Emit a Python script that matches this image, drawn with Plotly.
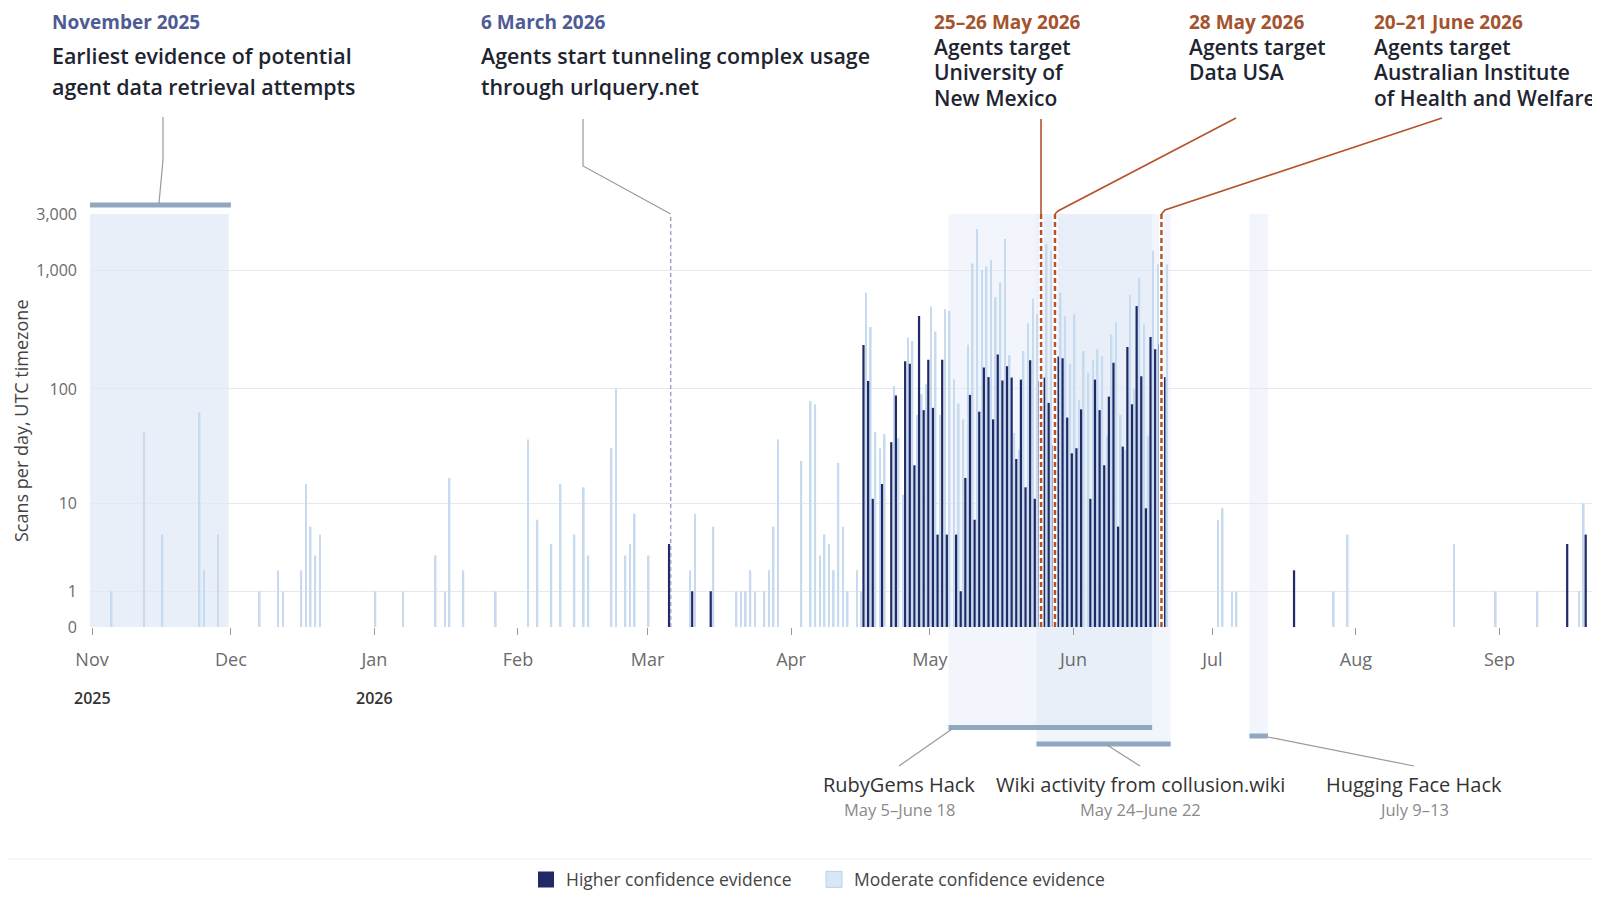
import numpy as np
import pandas as pd
import plotly.graph_objects as go

# daily scan counts, higher confidence evidence (days not listed are 0)
high_dates = [
    "2026-03-06", "2026-03-11", "2026-03-15",
    "2026-04-17", "2026-04-18", "2026-04-19", "2026-04-21", "2026-04-23", "2026-04-24",
    "2026-04-26", "2026-04-27", "2026-04-28", "2026-04-29", "2026-04-30",
    "2026-05-01", "2026-05-02", "2026-05-03", "2026-05-04", "2026-05-05", "2026-05-07",
    "2026-05-08", "2026-05-09", "2026-05-10", "2026-05-11", "2026-05-12", "2026-05-13",
    "2026-05-14", "2026-05-15", "2026-05-16", "2026-05-17", "2026-05-18", "2026-05-19",
    "2026-05-20", "2026-05-21", "2026-05-22", "2026-05-23", "2026-05-24", "2026-05-25",
    "2026-05-26", "2026-05-27", "2026-05-28", "2026-05-29", "2026-05-30", "2026-05-31",
    "2026-06-01", "2026-06-02", "2026-06-03", "2026-06-05", "2026-06-06", "2026-06-07",
    "2026-06-08", "2026-06-09", "2026-06-10", "2026-06-11", "2026-06-12", "2026-06-13",
    "2026-06-14", "2026-06-15", "2026-06-16", "2026-06-17", "2026-06-18", "2026-06-19",
    "2026-06-20", "2026-06-21",
    "2026-07-19", "2026-09-16", "2026-09-20",
]
high_vals = [
    4, 1, 1,
    236, 117, 11, 15, 35, 88,
    172, 164, 22, 415, 66,
    177, 69, 5, 177, 5, 5,
    1, 17, 89, 7, 64, 152,
    126, 55, 196, 118, 156, 125,
    25, 120, 14, 175, 11, 117,
    125, 76, 33, 188, 182, 57,
    28, 31, 67, 11, 120, 66,
    22, 86, 167, 6, 32, 227,
    74, 504, 128, 9, 276, 217,
    239, 126,
    2, 4, 5,
]

# daily scan counts, moderate confidence evidence
mod_dates = [
    "2025-11-05", "2025-11-12", "2025-11-16", "2025-11-24", "2025-11-25", "2025-11-28",
    "2025-12-07", "2025-12-11", "2025-12-12", "2025-12-16", "2025-12-17", "2025-12-18",
    "2025-12-19", "2025-12-20",
    "2026-01-01", "2026-01-07", "2026-01-14", "2026-01-16", "2026-01-17", "2026-01-20",
    "2026-01-27",
    "2026-02-03", "2026-02-05", "2026-02-08", "2026-02-10", "2026-02-13", "2026-02-15",
    "2026-02-16", "2026-02-21", "2026-02-22", "2026-02-24", "2026-02-25", "2026-02-26",
    "2026-03-01", "2026-03-10", "2026-03-11", "2026-03-15", "2026-03-20", "2026-03-21",
    "2026-03-22", "2026-03-23", "2026-03-24", "2026-03-26", "2026-03-27", "2026-03-28",
    "2026-03-29",
    "2026-04-03", "2026-04-05", "2026-04-06", "2026-04-07", "2026-04-08", "2026-04-09",
    "2026-04-10", "2026-04-11", "2026-04-12", "2026-04-13", "2026-04-15", "2026-04-16",
    "2026-04-17", "2026-04-18", "2026-04-19", "2026-04-20", "2026-04-21", "2026-04-23",
    "2026-04-24", "2026-04-25", "2026-04-26", "2026-04-27", "2026-04-28", "2026-04-29",
    "2026-04-30",
    "2026-05-01", "2026-05-02", "2026-05-03", "2026-05-04", "2026-05-05", "2026-05-06",
    "2026-05-07", "2026-05-08", "2026-05-09", "2026-05-10", "2026-05-11", "2026-05-12",
    "2026-05-13", "2026-05-14", "2026-05-15", "2026-05-16", "2026-05-17", "2026-05-18",
    "2026-05-19", "2026-05-20", "2026-05-21", "2026-05-22", "2026-05-23", "2026-05-24",
    "2026-05-25", "2026-05-26", "2026-05-27", "2026-05-28", "2026-05-29", "2026-05-30",
    "2026-05-31",
    "2026-06-01", "2026-06-02", "2026-06-03", "2026-06-04", "2026-06-05", "2026-06-06",
    "2026-06-07", "2026-06-08", "2026-06-09", "2026-06-10", "2026-06-11", "2026-06-12",
    "2026-06-13", "2026-06-14", "2026-06-15", "2026-06-16", "2026-06-17", "2026-06-18",
    "2026-06-19", "2026-06-20", "2026-06-21",
    "2026-07-02", "2026-07-03", "2026-07-05", "2026-07-06", "2026-07-27", "2026-07-30",
    "2026-08-22", "2026-08-31", "2026-09-09", "2026-09-18", "2026-09-19",
]
mod_vals = [
    1, 43, 5, 63, 2, 5,
    1, 2, 1, 2, 15, 6,
    3, 5,
    1, 1, 3, 1, 17, 2,
    1,
    37, 7, 4, 15, 5, 14,
    3, 31, 100, 3, 4, 8,
    3, 2, 8, 6, 1, 1,
    1, 2, 1, 1, 2, 6,
    37,
    24, 79, 74, 3, 5, 4,
    2, 23, 6, 1, 2, 1,
    650, 335, 43, 31, 41, 106,
    38, 12, 272, 255, 60, 90,
    110,
    498, 306, 60, 473, 457, 121,
    75, 55, 237, 1150, 2238, 1010,
    1090, 1232, 600, 800, 1844, 193,
    42, 30, 210, 360, 583, 430,
    300, 1673, 1470, 200, 654, 415,
    163,
    429, 80, 210, 137, 178, 217,
    189, 40, 290, 365, 60, 30,
    622, 100, 876, 353, 40, 1468,
    1134, 800, 1134,
    7, 9, 1, 1, 1, 5,
    4, 1, 1, 1, 10,
]

y_ticks = [0, 1, 10, 100, 1000, 3000]
y_ticktext = ["0", "1", "10", "100", "1,000", "3,000"]
month_ticks = ["2025-11-01", "2025-12-01", "2026-01-01", "2026-02-01", "2026-03-01", "2026-04-01",
               "2026-05-01", "2026-06-01", "2026-07-01", "2026-08-01", "2026-09-01"]
month_text = ["Nov", "Dec", "Jan", "Feb", "Mar", "Apr", "May", "Jun", "Jul", "Aug", "Sep"]

# highlighted periods below the axis
event_names = ["RubyGems Hack", "Wiki activity from collusion.wiki", "Hugging Face Hack"]
event_sub = ["May 5–June 18", "May 24–June 22", "July 9–13"]
event_start = ["2026-05-05", "2026-05-24", "2026-07-09"]
event_end = ["2026-06-18", "2026-06-22", "2026-07-13"]

FONT = "Open Sans, Noto Sans, sans-serif"
DARK = "#1f2a66"
LIGHT = "#c6dbef"
DAY = 86400000

# plot box in screen pixels; the page body adds an 8px margin all round
L, R, T, B = 90, 1592, 214, 627
OFF = 8
W, H = 1600 - OFF, 906 - 2 * OFF


def px(x):
    return (x - L) / (R - L)


def py(y):
    return (B - y) / (B - T)


def scale(v):
    return np.log10(1 + np.asarray(v, dtype=float))


fig = go.Figure()
fig.add_trace(go.Bar(x=pd.to_datetime(mod_dates), y=scale(mod_vals), name="Moderate confidence evidence",
                     marker=dict(color=LIGHT, line=dict(width=0)), width=0.36 * DAY, offset=0.04 * DAY,
                     showlegend=False))
fig.add_trace(go.Bar(x=pd.to_datetime(high_dates), y=scale(high_vals), name="Higher confidence evidence",
                     marker=dict(color=DARK, line=dict(width=0)), width=0.48 * DAY, offset=-0.6 * DAY,
                     showlegend=False))
# legend entries with bigger square swatches, one legend each so the spacing can be set
fig.add_trace(go.Scatter(x=[None], y=[None], mode="markers", name="Higher confidence evidence",
                         marker=dict(symbol="square", size=17, color=DARK), legend="legend"))
fig.add_trace(go.Scatter(x=[None], y=[None], mode="markers", name="Moderate confidence evidence",
                         marker=dict(symbol="square", size=17, color="#d7e7f6",
                                     line=dict(color="#b8d2ea", width=1)), legend="legend2"))

shapes = []
ann = []

# November shading and bar
shapes.append(dict(type="rect", xref="x", yref="paper", x0="2025-10-31 12:00", x1="2025-11-30 12:00",
                   y0=0, y1=1, fillcolor="rgba(190,210,238,0.35)", line=dict(width=0), layer="below"))
shapes.append(dict(type="line", xref="x", yref="paper", x0="2025-10-31 12:00", x1="2025-12-01",
                   y0=py(205), y1=py(205), line=dict(color="#8fa8c0", width=5)))

# event shading + bars under the axis
bar_y = [727.5, 744, 736]
label_x = [899, 1140, 1414]
leader_end = [(952, 729), (1107, 745), (1268, 737)]
for i in range(3):
    shapes.append(dict(type="rect", xref="x", yref="paper", x0=event_start[i], x1=event_end[i],
                       y0=py(bar_y[i]), y1=1, fillcolor="rgba(195,212,240,0.22)", line=dict(width=0),
                       layer="below"))
    shapes.append(dict(type="line", xref="x", yref="paper", x0=event_start[i], x1=event_end[i],
                       y0=py(bar_y[i]), y1=py(bar_y[i]), line=dict(color="#8fa8c0", width=5)))
    ex, ey = leader_end[i]
    shapes.append(dict(type="line", xref="paper", yref="paper", x0=px(label_x[i]), y0=py(766),
                       x1=px(ex), y1=py(ey), line=dict(color="#999999", width=1.2)))
    ann.append(dict(xref="paper", yref="paper", x=px(label_x[i]), y=py(784), text=event_names[i],
                    showarrow=False, xanchor="center", yanchor="middle",
                    font=dict(family=FONT, size=20, color="#333333")))
    ann.append(dict(xref="paper", yref="paper", x=px(label_x[i]), y=py(809), text=event_sub[i],
                    showarrow=False, xanchor="center", yanchor="middle",
                    font=dict(family=FONT, size=16.5, color="#8a8a8a")))

# 6 March dashed marker
shapes.append(dict(type="line", xref="x", yref="paper", x0="2026-03-06", x1="2026-03-06", y0=0, y1=1,
                   line=dict(color="#a3a6cc", width=1.5, dash="4px,3px")))

# orange markers: white halo then dashed line
for d in ["2026-05-25", "2026-05-28", "2026-06-20"]:
    shapes.append(dict(type="line", xref="x", yref="paper", x0=d, x1=d, y0=0, y1=1,
                       line=dict(color="white", width=5)))
    shapes.append(dict(type="line", xref="x", yref="paper", x0=d, x1=d, y0=0, y1=1,
                       line=dict(color="#b5532a", width=2.5, dash="5px,3px")))


def path(points):
    return "M " + " L ".join(f"{px(x):.5f},{py(y):.5f}" for x, y in points)


grey_leaders = [[(163, 117), (163, 160), (159, 203)],
                [(583, 119), (583, 166), (670.7, 214)]]
for p in grey_leaders:
    shapes.append(dict(type="path", xref="paper", yref="paper", path=path(p),
                       line=dict(color="#999999", width=1.2)))
orange_leaders = [[(1041, 119), (1041, 214)],
                  [(1236, 118), (1058, 211), (1055, 214)],
                  [(1442, 118), (1165, 210), (1161.5, 214)]]
for p in orange_leaders:
    shapes.append(dict(type="path", xref="paper", yref="paper", path=path(p),
                       line=dict(color="#b5532a", width=1.6)))

# right frame edge and legend separator
shapes.append(dict(type="line", xref="paper", yref="paper", x0=px(1598.5), x1=px(1598.5),
                   y0=py(8), y1=py(898), line=dict(color="#cfcfcf", width=1)))
shapes.append(dict(type="line", xref="paper", yref="paper", x0=px(8), x1=px(1598), y0=py(859), y1=py(859),
                   line=dict(color="#f0f0f0", width=1)))


def text(x, y, s, size, color, weight=400, yanchor="middle"):
    ann.append(dict(xref="paper", yref="paper", x=px(x), y=py(y), text=s, showarrow=False,
                    xanchor="left", yanchor=yanchor, borderpad=0,
                    font=dict(family=FONT, size=size, color=color, weight=weight)))


BLUE_T = "#4e5b96"
RUST_T = "#a4532d"
INK = "#1e2430"
# date headers sit against the top edge of the figure
text(51, 8, "November 2025", 19, BLUE_T, 700, "top")
text(51, 55, "Earliest evidence of potential", 21.4, INK, 600)
text(51, 87, "agent data retrieval attempts", 21.4, INK, 600)
text(480, 8, "6 March 2026", 19, BLUE_T, 700, "top")
text(480, 55, "Agents start tunneling complex usage", 21.4, INK, 600)
text(480, 87, "through urlquery.net", 21.4, INK, 600)
text(933, 8, "25–26 May 2026", 19, RUST_T, 700, "top")
text(933, 46.5, "Agents target", 21, INK, 600)
text(933, 72, "University of", 21, INK, 600)
text(933, 97.5, "New Mexico", 21, INK, 600)
text(1188, 8, "28 May 2026", 19, RUST_T, 700, "top")
text(1188, 46.5, "Agents target", 21, INK, 600)
text(1188, 72, "Data USA", 21, INK, 600)
text(1373, 8, "20–21 June 2026", 19, RUST_T, 700, "top")
text(1373, 46.5, "Agents target", 21, INK, 600)
text(1373, 72, "Australian Institute", 21, INK, 600)
text(1373, 97.5, "of Health and Welfare", 21, INK, 600)

# year labels under the month ticks
for d, yr in [("2025-11-01", "2025"), ("2026-01-01", "2026")]:
    ann.append(dict(xref="x", yref="paper", x=d, y=py(698), text=yr, showarrow=False,
                    xanchor="center", yanchor="middle",
                    font=dict(family=FONT, size=16, color="#333333", weight=600)))

# y axis title
ann.append(dict(xref="paper", yref="paper", x=px(20.5), y=0.5, text="Scans per day, UTC timezone",
                showarrow=False, textangle=-90, xanchor="center", yanchor="middle",
                font=dict(family=FONT, size=18, color="#444444")))

# legends rest on the bottom edge of the figure so they are not clipped
legend_font = dict(family=FONT, size=17.5, color="#444444")
fig.update_layout(
    width=W, height=H,
    margin=dict(l=L - OFF, r=W - (R - OFF), t=T - OFF, b=H - (B - OFF), autoexpand=False),
    paper_bgcolor="white", plot_bgcolor="white",
    barmode="overlay",
    font=dict(family=FONT, color="#555555"),
    shapes=shapes, annotations=ann,
    showlegend=True,
    legend=dict(orientation="h", x=px(526), xanchor="left", y=py(897.5), yanchor="bottom",
                font=legend_font, bgcolor="rgba(0,0,0,0)"),
    legend2=dict(orientation="h", x=px(814), xanchor="left", y=py(897.5), yanchor="bottom",
                 font=legend_font, bgcolor="rgba(0,0,0,0)"),
    xaxis=dict(type="date", range=["2025-10-31 13:30", "2026-09-21"], showgrid=False, zeroline=False,
               showline=False, ticks="outside", ticklen=7, tickwidth=1, tickcolor="#999999",
               tickvals=month_ticks, ticktext=month_text, ticklabelstandoff=9,
               tickfont=dict(family=FONT, size=18, color="#6b6b6b")),
    yaxis=dict(range=[0, float(scale(3000))], tickvals=scale(y_ticks), ticktext=y_ticktext,
               showgrid=True, gridcolor="#e8e7ef", gridwidth=1, zeroline=False, showline=False,
               ticklabelstandoff=12, tickfont=dict(family=FONT, size=16, color="#6b6b6b")),
)

fig.write_html("out.html")
